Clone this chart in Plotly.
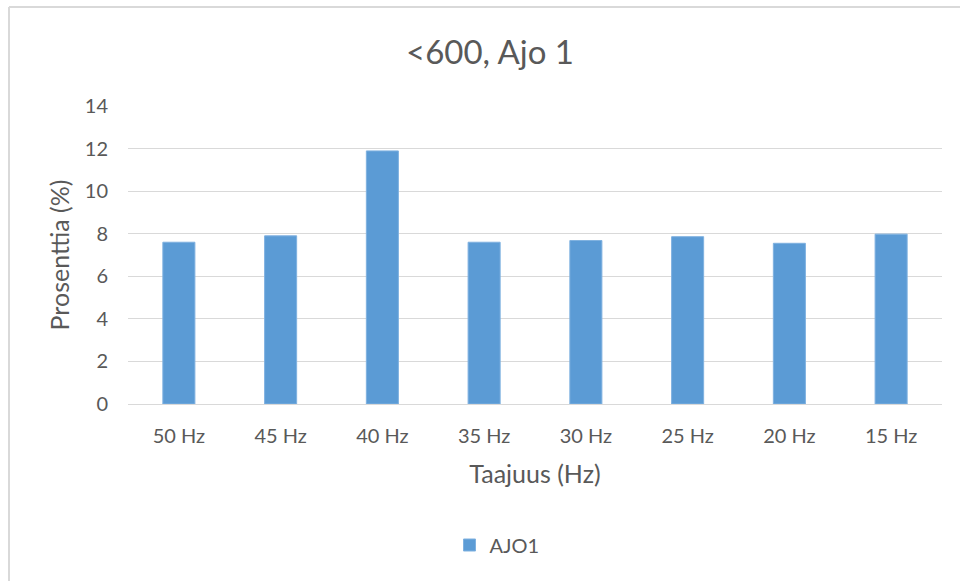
import plotly.graph_objects as go

categories = ["50 Hz", "45 Hz", "40 Hz", "35 Hz", "30 Hz", "25 Hz", "20 Hz", "15 Hz"]
ajo1 = [7.60, 7.90, 11.89, 7.60, 7.68, 7.86, 7.55, 7.98]
y_ticks = [0, 2, 4, 6, 8, 10, 12, 14]

W, H = 960, 581
L, R, T, B = 128, 942, 106, 404
pw, ph = R - L, B - T

def px(x):
    return (x - L) / pw

def py(y):
    return (B - y) / ph

font_family = "Lato, 'Open Sans', sans-serif"
text_color = "#595959"

fig = go.Figure()
fig.add_trace(go.Bar(
    x=categories, y=ajo1, name="AJO1",
    marker=dict(color="#5B9BD5", line=dict(color="#7FB1E0", width=1)),
))

fig.update_layout(
    width=W, height=H,
    margin=dict(l=L, r=W - R, t=T, b=H - B),
    paper_bgcolor="white", plot_bgcolor="white",
    bargap=0.685,
    font=dict(family=font_family, color=text_color, size=20),
    title=dict(text="&lt;600, Ajo 1", x=490 / W, xanchor="center", y=1 - 52 / H, yanchor="middle",
               font=dict(size=33, color=text_color, family=font_family)),
    showlegend=True,
    legend=dict(orientation="h", x=px(497), xanchor="center", y=py(545), yanchor="middle",
                font=dict(size=20, color=text_color), itemwidth=30),
    xaxis=dict(
        tickfont=dict(size=20, color=text_color),
        title=dict(text="Taajuus (Hz)", font=dict(size=25, color=text_color), standoff=19),
        showline=True, linecolor="#D9D9D9", linewidth=1,
        ticks="", showgrid=False, ticklabelstandoff=14,
    ),
    yaxis=dict(
        range=[0, 14], tickvals=y_ticks,
        tickfont=dict(size=20, color=text_color),
        title=dict(text="Prosenttia (%)", font=dict(size=25, color=text_color), standoff=8),
        showgrid=True, gridcolor="#D9D9D9", gridwidth=1,
        zeroline=False, ticks="", ticklabelstandoff=19,
    ),
)

# chart border (left and top edges visible in reference)
fig.add_shape(type="line", xref="paper", yref="paper",
              x0=px(9), x1=px(9), y0=py(7), y1=py(H + 5),
              line=dict(color="#D9D9D9", width=2))
fig.add_shape(type="line", xref="paper", yref="paper",
              x0=px(9), x1=px(W + 5), y0=py(7), y1=py(7),
              line=dict(color="#D9D9D9", width=2))

fig.write_html("out.html", config={"displayModeBar": False},
               post_script="document.body.style.margin='0';")
